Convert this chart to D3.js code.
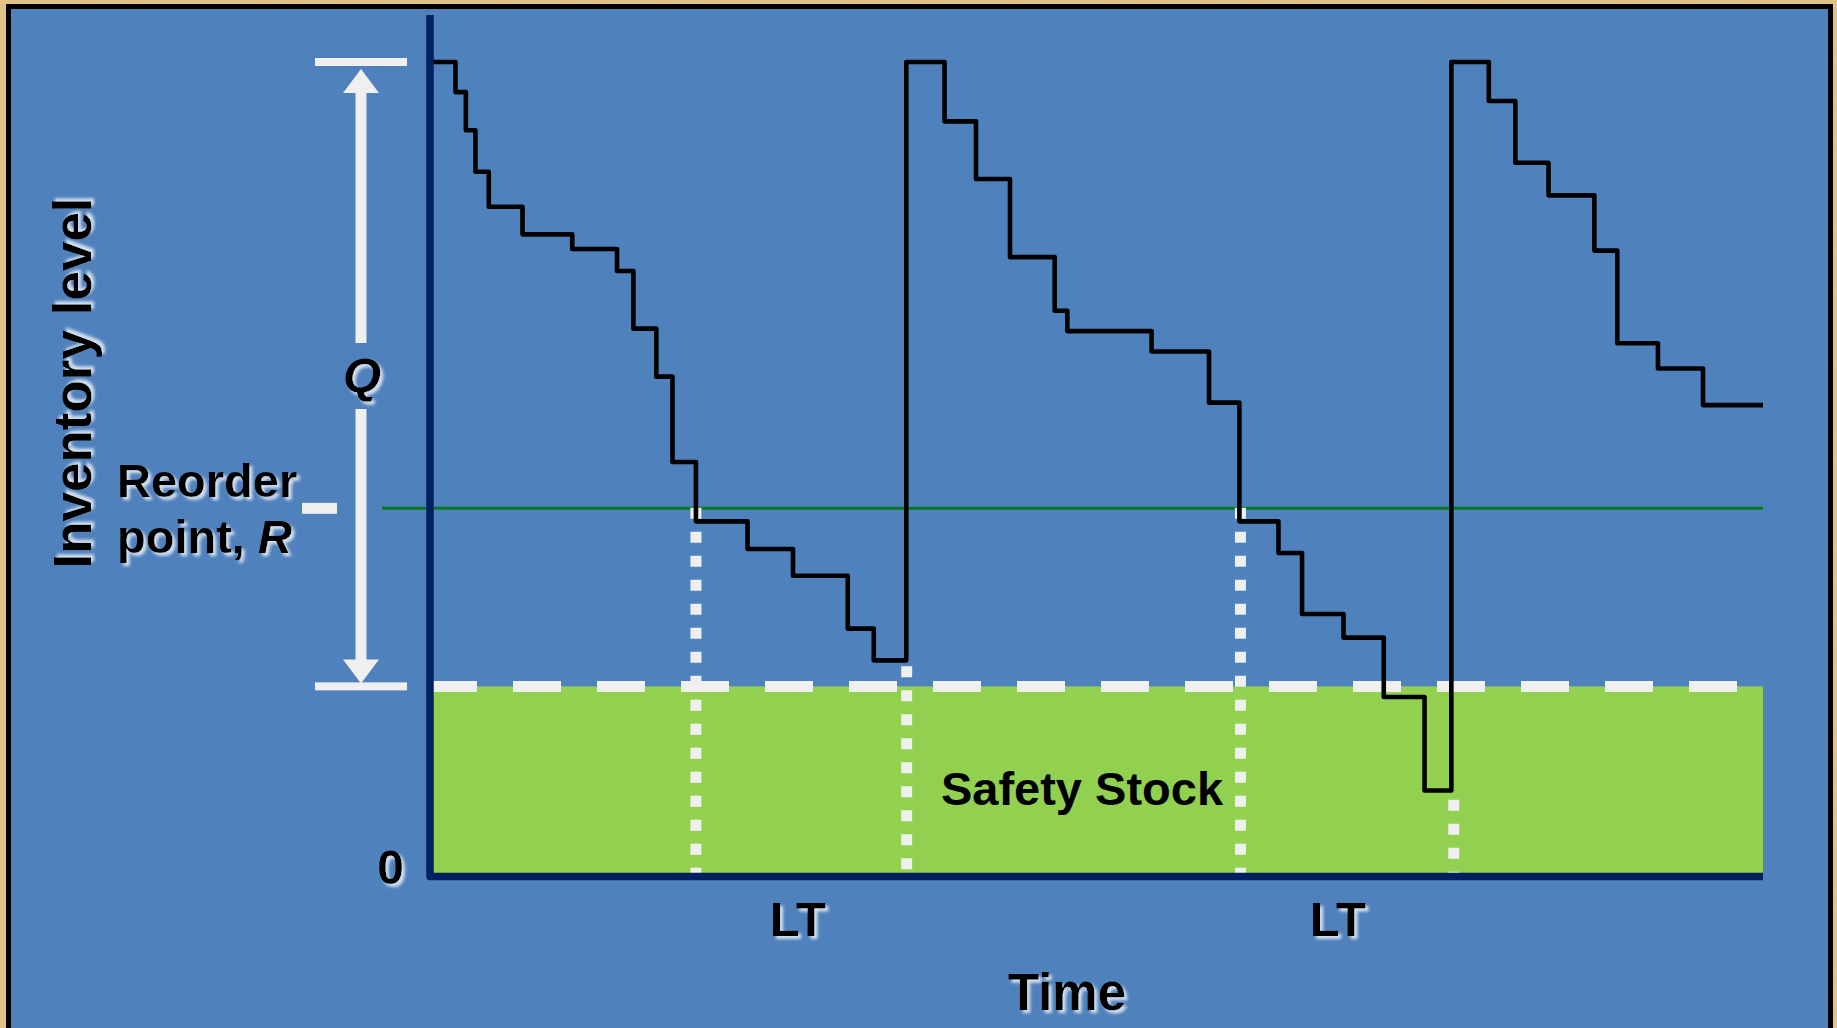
<!DOCTYPE html>
<html>
<head>
<meta charset="utf-8">
<script src="https://cdn.jsdelivr.net/npm/d3@7"></script>
<style>
  html, body { margin: 0; padding: 0; background: #e2c282; overflow: hidden; }
  svg { display: block; }
  text { font-family: "Liberation Sans", Arial, Helvetica, sans-serif; font-weight: bold; fill: #000; }
</style>
</head>
<body>
<svg id="chart" width="1837" height="1028"></svg>
<script>
// ---------------- DATA ----------------
// Time (0..100) at which each inventory step begins, and the level held from then on
const stepTimes = [0, 1.91, 2.69, 3.41, 4.41, 6.94, 10.67, 14.03, 15.26, 16.98, 18.19, 19.95,
  23.82, 27.23, 31.34, 33.29, 35.73, 38.60, 40.96, 43.51, 46.86, 47.81, 54.13, 58.44, 60.72,
  63.65, 65.42, 68.53, 71.55, 74.61, 76.62, 79.43, 81.42, 83.91, 87.35, 89.07, 92.12, 95.50, 100];
const stepLevels = [100, 96.3, 91.6, 86.5, 82.2, 78.8, 77.0, 74.3, 67.2, 61.3, 50.8, 43.5,
  40.1, 36.8, 30.3, 26.4, 100, 92.7, 85.6, 76.0, 69.4, 66.9, 64.4, 58.1, 43.5,
  39.6, 32.1, 29.2, 21.9, 10.4, 100, 95.2, 87.6, 83.6, 76.8, 65.4, 62.3, 57.8, 57.8];

const maxLevel = 100;        // Q + safety stock
const safetyStock = 23.2;    // SS level
const reorderPoint = 45.1;   // R level
const orderTimes = [19.95, 60.8];      // inventory hits R -> order placed
const receiptTimes = [35.76, 76.8];    // order received
const receiptDotTops = [25.6, 9.2];    // level where receipt dotted line begins
const ltLabelTimes = [27.6, 68.1];     // "LT" label positions
const ltLabels = ["LT", "LT"];
const yTickValues = [0];
const axisTitleX = "Time";
const axisTitleY = "Inventory level";
const qLabel = "Q";
const reorderLabel = ["Reorder", "point, "];
const reorderLabelItalic = "R";
const ssLabel = "Safety Stock";

// ---------------- SETUP ----------------
const W = 1837, H = 1028;
const svg = d3.select("#chart");
const x = d3.scaleLinear().domain([0, 100]).range([430, 1763]);
const y = d3.scaleLinear().domain([0, 100]).range([875, 62]);

const COL_BG = "#4f81bd", COL_AXIS = "#002060", COL_FILL = "#92d050",
      COL_WHITE = "#efefef", COL_R = "#0a7a1f";

const defs = svg.append("defs");
const glow = defs.append("filter").attr("id", "glow")
  .attr("x", "-20%").attr("y", "-20%").attr("width", "140%").attr("height", "140%");
glow.append("feGaussianBlur").attr("in", "SourceAlpha").attr("stdDeviation", 1.6).attr("result", "b");
glow.append("feOffset").attr("in", "b").attr("dx", 2.5).attr("dy", 2.5).attr("result", "o");
glow.append("feFlood").attr("flood-color", "#ffffff").attr("flood-opacity", 0.75).attr("result", "f");
glow.append("feComposite").attr("in", "f").attr("in2", "o").attr("operator", "in").attr("result", "s");
const gm = glow.append("feMerge");
gm.append("feMergeNode").attr("in", "s");
gm.append("feMergeNode").attr("in", "SourceGraphic");

const paper = defs.append("filter").attr("id", "paper");
paper.append("feTurbulence").attr("type", "fractalNoise").attr("baseFrequency", 0.35).attr("numOctaves", 2).attr("result", "n");
paper.append("feColorMatrix").attr("type", "matrix")
  .attr("values", "0 0 0 0 0.55  0 0 0 0 0.42  0 0 0 0 0.18  0 0 0 0.6 0");

// gold textured surround
svg.append("rect").attr("width", W).attr("height", H).attr("fill", "#e4c586");
svg.append("rect").attr("width", W).attr("height", H).attr("filter", "url(#paper)").attr("opacity", 0.35);

// blue panel with black border
svg.append("rect").attr("x", 8.5).attr("y", 6.5).attr("width", 1822).attr("height", 1040)
  .attr("fill", COL_BG).attr("stroke", "#000").attr("stroke-width", 5);

// ---------------- SAFETY STOCK AREA ----------------
svg.append("rect")
  .attr("x", x(0)).attr("y", y(safetyStock))
  .attr("width", x(100) - x(0)).attr("height", y(0) - y(safetyStock))
  .attr("fill", COL_FILL);

// reorder point line
svg.append("line")
  .attr("x1", 382).attr("x2", x(100))
  .attr("y1", y(reorderPoint)).attr("y2", y(reorderPoint))
  .attr("stroke", COL_R).attr("stroke-width", 3);

// safety stock dashed line
svg.append("line")
  .attr("x1", x(0) - 1).attr("x2", x(100))
  .attr("y1", y(safetyStock)).attr("y2", y(safetyStock))
  .attr("stroke", COL_WHITE).attr("stroke-width", 11)
  .attr("stroke-dasharray", "48,36");

// dotted lead-time markers
const dotted = [];
orderTimes.forEach(t => dotted.push({ t, top: reorderPoint }));
receiptTimes.forEach((t, i) => dotted.push({ t, top: receiptDotTops[i] }));
svg.append("g").selectAll("line").data(dotted).join("line")
  .attr("x1", d => x(d.t)).attr("x2", d => x(d.t))
  .attr("y1", d => y(d.top) - 0.5).attr("y2", y(0) + 1)
  .attr("stroke", COL_WHITE).attr("stroke-width", 11)
  .attr("stroke-dasharray", "11,13");

// ---------------- INVENTORY STEP LINE ----------------
const pts = stepTimes.map((t, i) => [t, stepLevels[i]]);
const line = d3.line().x(d => x(d[0])).y(d => y(d[1])).curve(d3.curveStepAfter);
svg.append("path").datum(pts)
  .attr("d", line)
  .attr("fill", "none").attr("stroke", "#000")
  .attr("stroke-width", 4.6).attr("stroke-linejoin", "round");

// ---------------- AXES ----------------
const axisG = svg.append("g");
axisG.append("path")
  .attr("d", `M${x(0)},15 V${y(0) + 1.5} H${x(100)}`)
  .attr("fill", "none").attr("stroke", COL_AXIS).attr("stroke-width", 7.5)
  .attr("stroke-linejoin", "round");

// y tick label "0"
axisG.selectAll("text.ytick").data(yTickValues).join("text")
  .attr("class", "ytick")
  .attr("x", x(0) - 26).attr("y", d => y(d) + 9)
  .attr("text-anchor", "end").attr("font-size", 48)
  .attr("filter", "url(#glow)")
  .text(d => d);

// ---------------- Q BRACKET ----------------
const qx = 361;
const ann = svg.append("g").attr("fill", COL_WHITE);
ann.append("rect").attr("x", 315).attr("y", y(maxLevel) - 4).attr("width", 92).attr("height", 8);
ann.append("rect").attr("x", 315).attr("y", y(safetyStock) - 4).attr("width", 92).attr("height", 8);
// R tick
ann.append("rect").attr("x", 302).attr("y", y(reorderPoint) - 5.5).attr("width", 35).attr("height", 11);
// shafts
ann.append("rect").attr("x", qx - 5.5).attr("y", y(maxLevel) + 29).attr("width", 11).attr("height", 343 - (y(maxLevel) + 29));
ann.append("rect").attr("x", qx - 5.5).attr("y", 409).attr("width", 11).attr("height", (y(safetyStock) - 26) - 409);
// arrowheads
ann.append("polygon").attr("points",
  `${qx},${y(maxLevel) + 7} ${qx - 18},${y(maxLevel) + 31} ${qx + 18},${y(maxLevel) + 31}`);
ann.append("polygon").attr("points",
  `${qx},${y(safetyStock) - 3} ${qx - 18},${y(safetyStock) - 27} ${qx + 18},${y(safetyStock) - 27}`);

svg.append("text").attr("x", qx + 1).attr("y", 392)
  .attr("text-anchor", "middle").attr("font-size", 49).attr("font-style", "italic")
  .attr("filter", "url(#glow)").text(qLabel);

// Reorder point label
svg.append("text").attr("x", 117).attr("y", 497).attr("font-size", 47)
  .attr("filter", "url(#glow)").text(reorderLabel[0]);
const pr = svg.append("text").attr("x", 117).attr("y", 553).attr("font-size", 47)
  .attr("filter", "url(#glow)");
pr.append("tspan").text(reorderLabel[1]);
pr.append("tspan").attr("font-style", "italic").text(reorderLabelItalic);

// ---------------- TITLES / LABELS ----------------
svg.append("text")
  .attr("transform", "translate(91,383) rotate(-90)")
  .attr("text-anchor", "middle").attr("font-size", 53)
  .attr("filter", "url(#glow)").text(axisTitleY);

svg.append("text").attr("x", 1067).attr("y", 1010)
  .attr("text-anchor", "middle").attr("font-size", 51)
  .attr("filter", "url(#glow)").text(axisTitleX);

svg.append("g").selectAll("text").data(ltLabelTimes).join("text")
  .attr("x", d => x(d)).attr("y", 936)
  .attr("text-anchor", "middle").attr("font-size", 49)
  .attr("filter", "url(#glow)")
  .text((d, i) => ltLabels[i]);

svg.append("text").attr("x", 1082).attr("y", 805)
  .attr("text-anchor", "middle").attr("font-size", 47)
  .text(ssLabel);
</script>
</body>
</html>
